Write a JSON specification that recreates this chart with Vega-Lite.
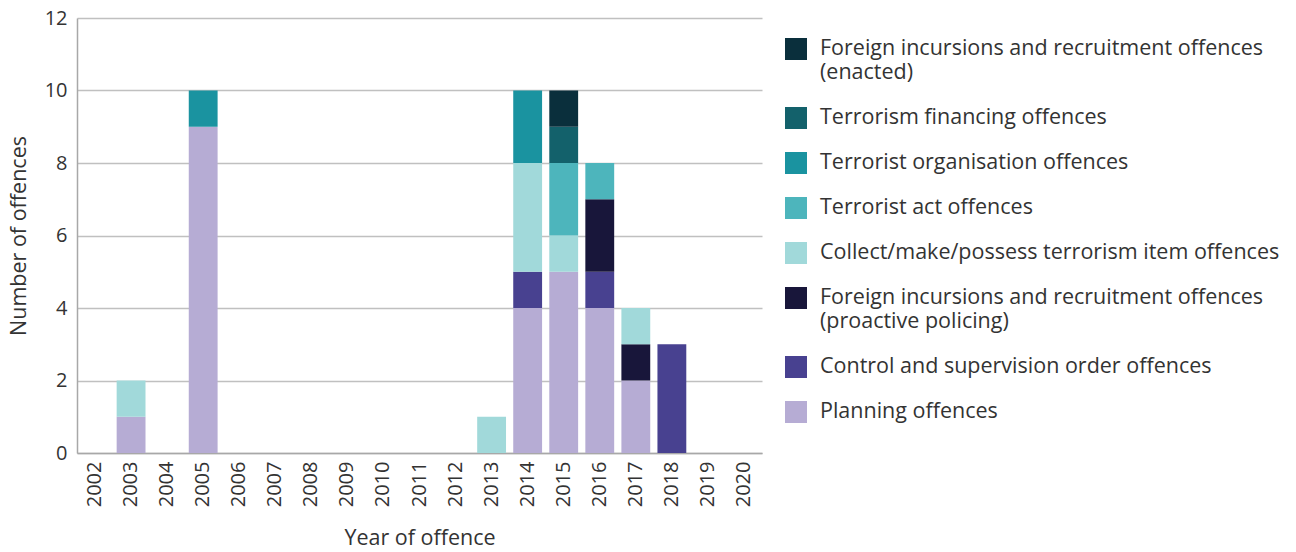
{
  "$schema": "https://vega.github.io/schema/vega-lite/v6.json",
  "width": 685,
  "height": 435,
  "autosize": {"type": "none"},
  "padding": {"left": 77, "top": 18, "right": 534, "bottom": 99},
  "background": "white",
  "config": {
    "font": "Open Sans",
    "view": {"stroke": null},
    "axis": {
      "labelFont": "Open Sans",
      "titleFont": "Open Sans",
      "labelColor": "#333333",
      "titleColor": "#333333",
      "titleFontWeight": "normal",
      "labelFontSize": 20,
      "titleFontSize": 21.5,
      "gridColor": "#c0c0c0",
      "gridWidth": 1.5,
      "domainColor": "#a8a8a8",
      "domainWidth": 1.5,
      "ticks": false
    },
    "legend": {
      "labelFont": "Open Sans",
      "labelFontSize": 21.5,
      "labelColor": "#333333"
    }
  },
  "datasets": {
    "offences": [
      {"year": "2003", "category": "Planning offences", "count": 1},
      {"year": "2003", "category": "Collect/make/possess terrorism item offences", "count": 1},
      {"year": "2005", "category": "Planning offences", "count": 9},
      {"year": "2005", "category": "Terrorist organisation offences", "count": 1},
      {"year": "2013", "category": "Collect/make/possess terrorism item offences", "count": 1},
      {"year": "2014", "category": "Planning offences", "count": 4},
      {"year": "2014", "category": "Control and supervision order offences", "count": 1},
      {"year": "2014", "category": "Collect/make/possess terrorism item offences", "count": 3},
      {"year": "2014", "category": "Terrorist organisation offences", "count": 2},
      {"year": "2015", "category": "Planning offences", "count": 5},
      {"year": "2015", "category": "Collect/make/possess terrorism item offences", "count": 1},
      {"year": "2015", "category": "Terrorist act offences", "count": 2},
      {"year": "2015", "category": "Terrorism financing offences", "count": 1},
      {"year": "2015", "category": "Foreign incursions and recruitment offences (enacted)", "count": 1},
      {"year": "2016", "category": "Planning offences", "count": 4},
      {"year": "2016", "category": "Control and supervision order offences", "count": 1},
      {"year": "2016", "category": "Foreign incursions and recruitment offences (proactive policing)", "count": 2},
      {"year": "2016", "category": "Terrorist act offences", "count": 1},
      {"year": "2017", "category": "Planning offences", "count": 2},
      {"year": "2017", "category": "Foreign incursions and recruitment offences (proactive policing)", "count": 1},
      {"year": "2017", "category": "Collect/make/possess terrorism item offences", "count": 1},
      {"year": "2018", "category": "Control and supervision order offences", "count": 3}
    ],
    "categories": [
      {"category": "Foreign incursions and recruitment offences (enacted)", "rank": 1},
      {"category": "Terrorism financing offences", "rank": 2},
      {"category": "Terrorist organisation offences", "rank": 3},
      {"category": "Terrorist act offences", "rank": 4},
      {"category": "Collect/make/possess terrorism item offences", "rank": 5},
      {"category": "Foreign incursions and recruitment offences (proactive policing)", "rank": 6},
      {"category": "Control and supervision order offences", "rank": 7},
      {"category": "Planning offences", "rank": 8}
    ]
  },
  "data": {"name": "offences"},
  "transform": [
    {"lookup": "category", "from": {"data": {"name": "categories"}, "key": "category", "fields": ["rank"]}}
  ],
  "mark": {"type": "bar"},
  "encoding": {
    "x": {
      "field": "year",
      "type": "ordinal",
      "title": "Year of offence",
      "scale": {
        "domain": ["2002","2003","2004","2005","2006","2007","2008","2009","2010","2011","2012","2013","2014","2015","2016","2017","2018","2019","2020"],
        "paddingInner": 0.2,
        "paddingOuter": 0.1
      },
      "axis": {"labelAngle": -90, "labelPadding": 8, "titlePadding": 21, "grid": false}
    },
    "y": {
      "field": "count",
      "type": "quantitative",
      "title": "Number of offences",
      "scale": {"domain": [0, 12]},
      "axis": {"values": [0, 2, 4, 6, 8, 10, 12], "labelPadding": 10, "titlePadding": 14, "grid": true}
    },
    "order": {"field": "rank", "type": "quantitative", "sort": "descending"},
    "color": {
      "field": "category",
      "type": "nominal",
      "scale": {
        "domain": [
          "Foreign incursions and recruitment offences (enacted)",
          "Terrorism financing offences",
          "Terrorist organisation offences",
          "Terrorist act offences",
          "Collect/make/possess terrorism item offences",
          "Foreign incursions and recruitment offences (proactive policing)",
          "Control and supervision order offences",
          "Planning offences"
        ],
        "range": ["#0a2f3c", "#13616b", "#1a93a0", "#4db5bc", "#a1d9da", "#18163a", "#484190", "#b6acd4"]
      },
      "legend": {
        "title": null,
        "orient": "right",
        "offset": 3,
        "padding": 20,
        "symbolType": "square",
        "symbolSize": 484,
        "symbolStrokeWidth": 0,
        "labelOffset": 13,
        "labelLimit": 600,
        "rowPadding": 23,
        "labelExpr": "split(replace(datum.label, ' (', '|('), '|')",
        "encode": {"labels": {"update": {"lineHeight": {"value": 24}}}}
      }
    }
  }
}
